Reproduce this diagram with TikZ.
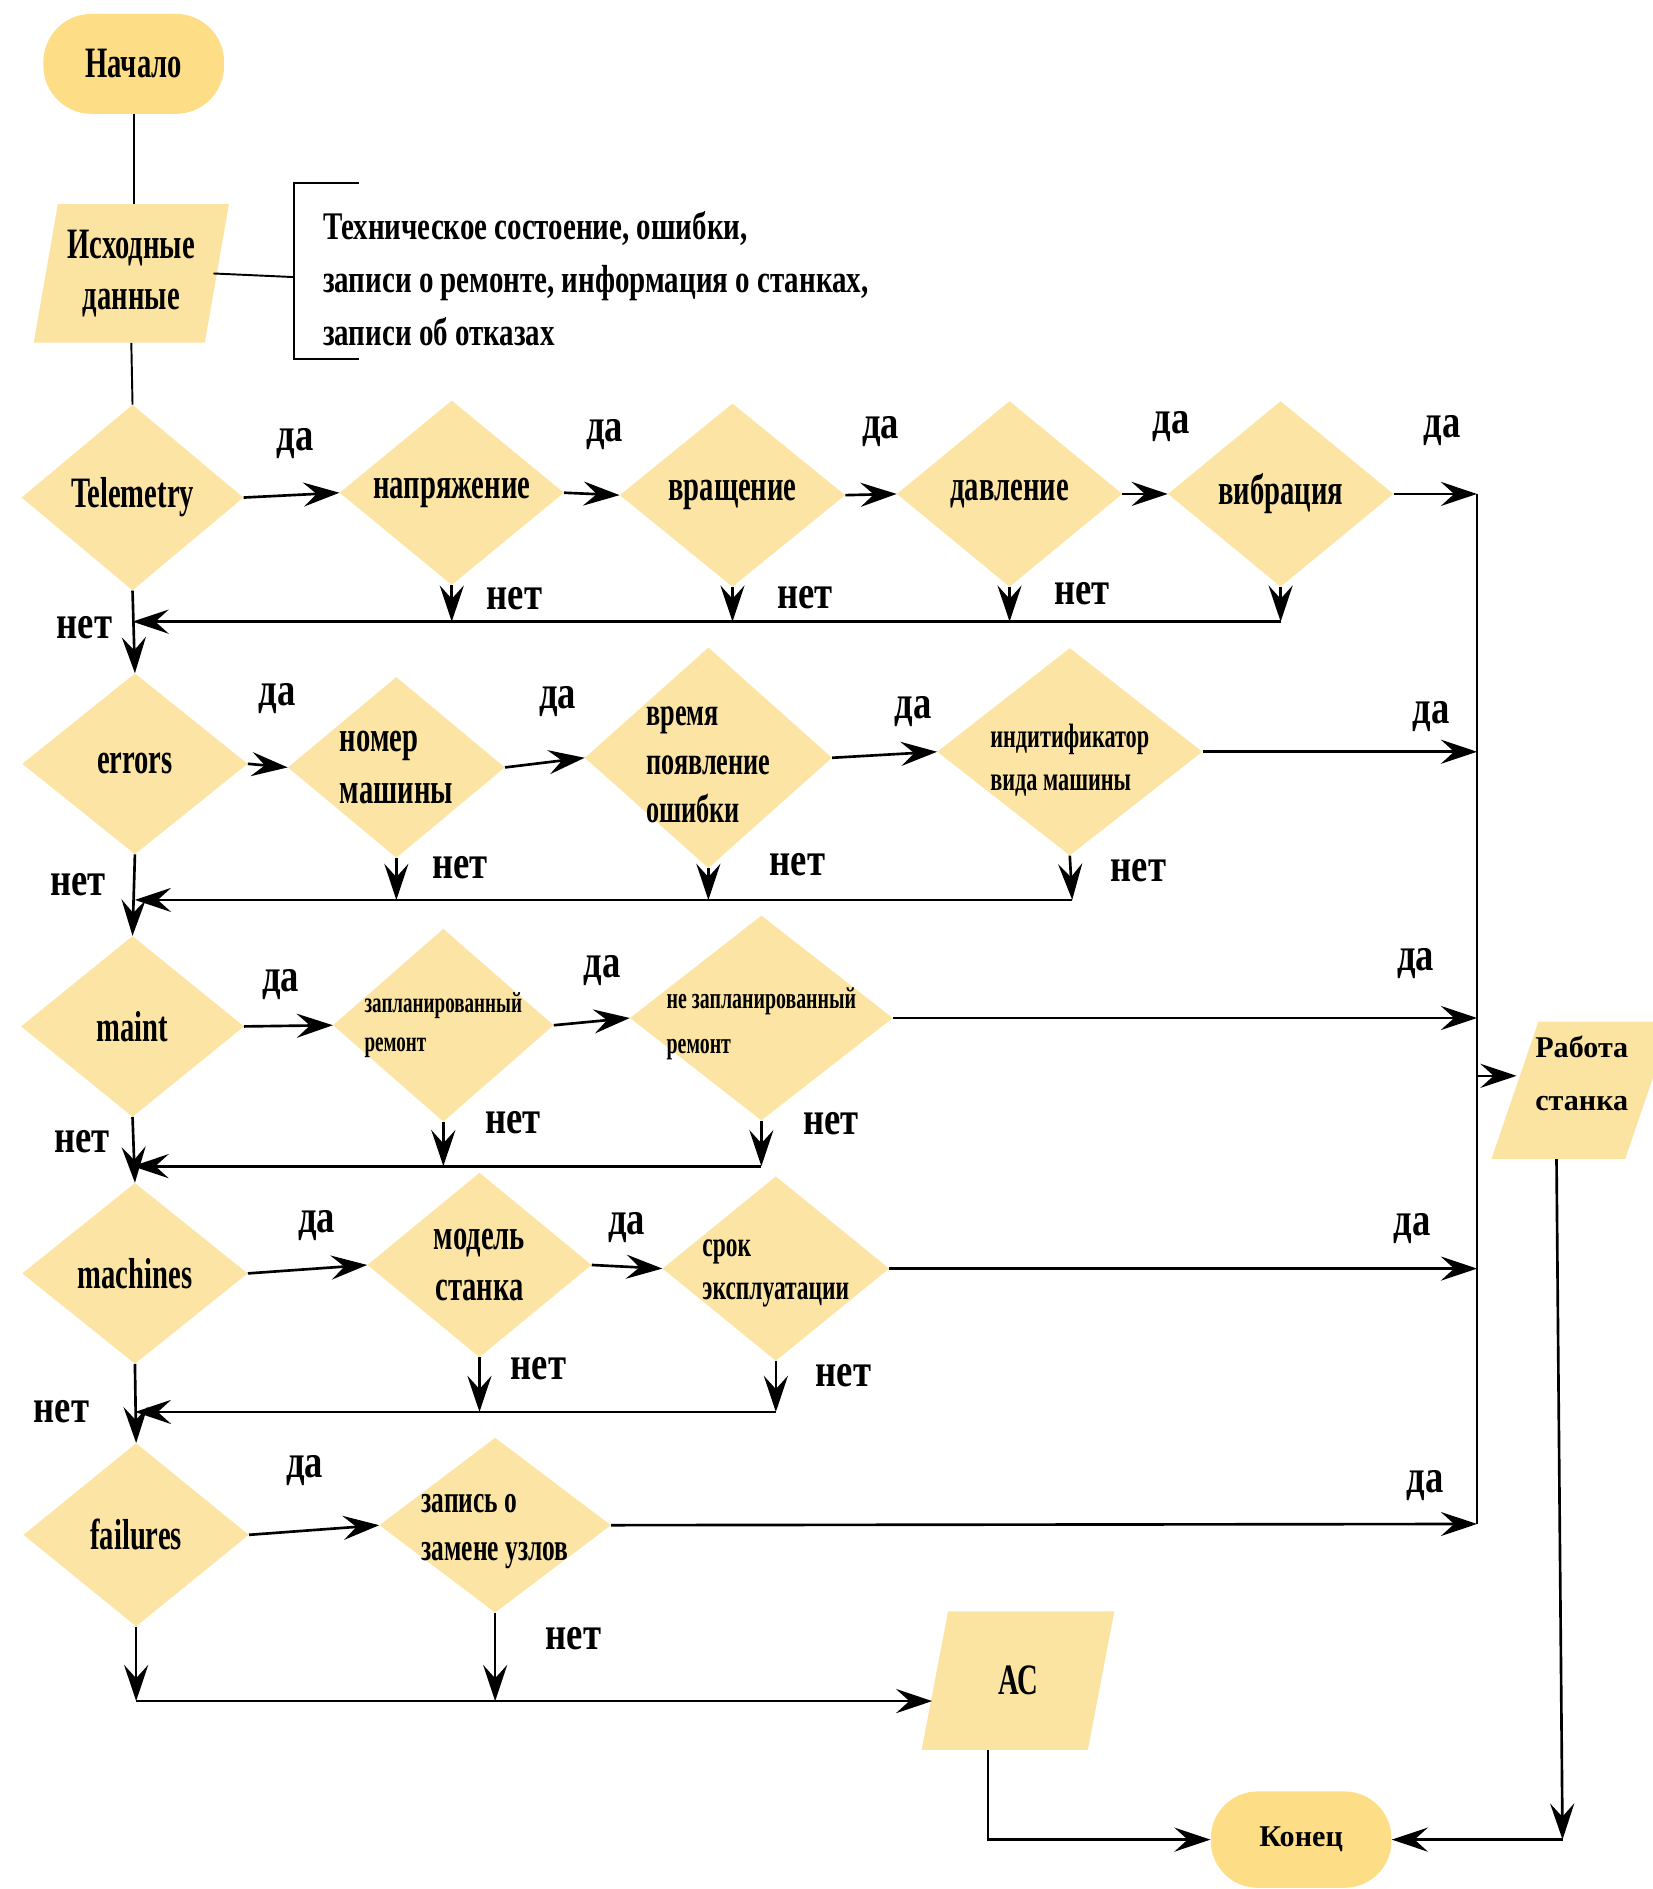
\documentclass[tikz,border=0pt]{standalone}
\usepackage{fontspec}
\setmainfont{Liberation Serif}
\newfontfamily\condA[FakeStretch=0.66]{Liberation Serif}
\newfontfamily\condB[FakeStretch=0.74]{Liberation Serif}
\newfontfamily\condC[FakeStretch=0.78]{Liberation Serif}
\usetikzlibrary{arrows.meta,calc}
\definecolor{diafill}{HTML}{FCE5A4}
\definecolor{termfill}{HTML}{FDDD86}
\definecolor{parfill}{HTML}{FBE3A2}
\newcommand\FtBig{\condA\bfseries\fontsize{36pt}{43pt}\selectfont}
\newcommand\FtMid{\condA\bfseries\fontsize{33pt}{40pt}\selectfont}
\newcommand\FtSrok{\condA\bfseries\fontsize{29.5pt}{36pt}\selectfont}
\newcommand\FtZam{\condA\bfseries\fontsize{32pt}{40pt}\selectfont}
\newcommand\FtInd{\condA\bfseries\fontsize{28pt}{36pt}\selectfont}
\newcommand\FtZap{\condA\bfseries\fontsize{24pt}{32pt}\selectfont}
\newcommand\FtNzap{\condA\bfseries\fontsize{25pt}{37pt}\selectfont}
\newcommand\FtLbl{\condC\bfseries\fontsize{39pt}{40pt}\selectfont}
\newcommand\FtInfo{\condB\bfseries\fontsize{32.5pt}{44pt}\selectfont}
\newcommand\FtNorm{\normalfont\bfseries\fontsize{25pt}{44pt}\selectfont}
\tikzset{
  dia/.style 2 args={rectangle, inner sep=0pt, minimum width=#1, minimum height=#2, align=center,
    path picture={\fill[diafill] (path picture bounding box.north) -- (path picture bounding box.east)
      -- (path picture bounding box.south) -- (path picture bounding box.west) -- cycle;}},
  para/.style n args={3}{rectangle, inner sep=0pt, minimum width=#1, minimum height=#2, align=center,
    path picture={\fill[parfill] ([xshift=#3]path picture bounding box.north west) -- (path picture bounding box.north east)
      -- ([xshift=-#3]path picture bounding box.south east) -- (path picture bounding box.south west) -- cycle;}},
  term/.style n args={3}{rectangle, inner sep=0pt, minimum width=#1, minimum height=#2, rounded corners=#3, fill=termfill},
  lbl/.style={font=\FtLbl, inner sep=0pt},
  ln/.style={line width=1.6pt},
  arr/.style={line width=2.2pt, -{Stealth[length=30pt,width=20pt,inset=11pt]}},
}
\begin{document}
\begin{tikzpicture}[x=1pt,y=-1pt]
\useasboundingbox (0,0) rectangle (1372,1568);
% top
\node[term={150pt}{83pt}{40pt}, font=\FtBig] (nach) at (111,53) {Начало};
\node[para={162pt}{115pt}{20pt}, font=\FtBig] (ish) at (109,227) {Исходные\\данные};
\node[anchor=west, align=left, font=\FtInfo, inner sep=0pt] (info) at (268,231) {Техническое состоение, ошибки,\\записи о ремонте, информация о станках,\\записи об отказах};
\coordinate (br) at (244,230);
\draw[ln] (298,152) -- (244,152) -- (244,298) -- (298,298);
\draw[ln] (nach.south) -- (nach.south |- ish.north);
\draw[ln] ([xshift=-13pt]ish.east) -- (br);

% row 1
\node[dia={184pt}{154pt}, font=\FtBig] (tel) at (110,413) {Telemetry};
\node[dia={186pt}{153pt}, font=\FtBig] (nap) at (375,409) {напряжение};
\node[dia={187pt}{152pt}, font=\FtBig] (vra) at (608,411) {вращение};
\node[dia={187pt}{154pt}, font=\FtBig] (dav) at (838,410) {давление};
\node[dia={187pt}{154pt}, font=\FtBig] (vib) at (1063,410) {вибрация};
\draw[ln] (ish.south) -- (tel.north);

% row 2
\node[dia={187pt}{150pt}, font=\FtBig] (err) at (112,634) {errors};
\node[dia={180pt}{150pt}, font=\FtBig, align=left] (nom) at (329,637) {номер\\машины};
\node[dia={205pt}{183pt}, label={[font=\FtMid, align=left, yshift=-6pt]center:{время\\появление\\ошибки}}] (vrem) at (588,629) {};
\node[dia={220pt}{172pt}, label={[font=\FtInd, align=left, yshift=-7pt]center:{индитификатор\\вида машины}}] (ind) at (888,624) {};

% row 3
\node[dia={185pt}{150pt}, font=\FtBig] (mnt) at (110,852) {maint};
\node[dia={183pt}{160pt}, font=\FtZap, align=left] (zap) at (368,851) {запланированный\\ремонт};
\node[dia={218pt}{170pt}, label={[font=\FtNzap, align=left, yshift=-5pt]center:{не запланированный\\ремонт}}] (nzap) at (632,845) {};

% row 4
\node[dia={187pt}{150pt}, font=\FtBig] (mach) at (112,1057) {machines};
\node[dia={186pt}{153pt}, font=\FtBig] (mod) at (398,1050) {модель\\станка};
\node[dia={188pt}{153pt}, label={[font=\FtSrok, align=left, yshift=-4pt]center:{срок\\эксплуатации}}] (srok) at (644,1053) {};

% row 5
\node[dia={187pt}{152pt}, font=\FtBig] (fail) at (113,1274) {failures};
\node[dia={192pt}{145pt}, label={[font=\FtZam, align=left, yshift=-5pt]center:{запись о\\замене узлов}}] (zam) at (411,1266) {};

% outputs
\node[para={160pt}{115pt}{22pt}, font=\FtBig] (ac) at (845,1395) {АС};
\node[term={150pt}{80pt}{39pt}, font=\FtNorm] (kon) at (1080,1527) {Конец};
\node[para={150pt}{114pt}{39pt}, label={[font=\FtNorm, align=center, yshift=14pt]center:{Работа\\станка}}] (rab) at (1313,905) {};

% bus
\coordinate (busT) at (1226,410);
\coordinate (busB) at (1226,1265);
\coordinate (busM) at (1226,893);
\draw[ln] (busT) -- (busB);
\draw[arr] (busM) -- ([xshift=21pt]rab.west |- busM);

% row 1 connectors
\draw[arr] (tel.east) -- (nap.west);
\draw[arr] (nap.east) -- (vra.west);
\draw[arr] (vra.east) -- (dav.west);
\draw[arr] (dav.east) -- (vib.west);
\draw[arr] (vib.east) -- (vib.east -| busT);
\coordinate (n1) at (1063,516);
\draw[arr] (nap.south) -- (nap.south |- n1);
\draw[arr] (vra.south) -- (vra.south |- n1);
\draw[arr] (dav.south) -- (dav.south |- n1);
\draw[arr] (vib.south) -- (n1);
\draw[arr] (n1) -- (tel.south |- n1);
\draw[arr] (tel.south) -- (err.north);

% row 2 connectors
\draw[arr] (err.east) -- (nom.west);
\draw[arr] (nom.east) -- (vrem.west);
\draw[arr] (vrem.east) -- (ind.west);
\draw[arr] (ind.east) -- (ind.east -| busT);
\coordinate (n2) at (890,747);
\draw[arr] (nom.south) -- (nom.south |- n2);
\draw[arr] (vrem.south) -- (vrem.south |- n2);
\draw[arr] (ind.south) -- (n2);
\draw[arr] (n2) -- (err.south |- n2);
\draw[arr] (err.south) -- (mnt.north);

% row 3 connectors
\draw[arr] (mnt.east) -- (zap.west);
\draw[arr] (zap.east) -- (nzap.west);
\draw[arr] (nzap.east) -- (nzap.east -| busT);
\coordinate (n3) at (632,968);
\draw[arr] (zap.south) -- (zap.south |- n3);
\draw[arr] (nzap.south) -- (n3);
\draw[arr] (n3) -- (mnt.south |- n3);
\draw[arr] (mnt.south) -- (mach.north);

% row 4 connectors
\draw[arr] (mach.east) -- (mod.west);
\draw[arr] (mod.east) -- (srok.west);
\draw[arr] (srok.east) -- (srok.east -| busT);
\coordinate (n4) at (644,1172);
\draw[arr] (mod.south) -- (mod.south |- n4);
\draw[arr] (srok.south) -- (n4);
\draw[arr] (n4) -- (mach.south |- n4);
\draw[arr] (mach.south) -- (fail.north);

% row 5 connectors
\draw[arr] (fail.east) -- (zam.west);
\draw[arr] (zam.east) -- (busB);
\coordinate (n5) at (113,1412);
\draw[arr] (fail.south) -- (n5);
\draw[arr] (zam.south) -- (zam.south |- n5);
\draw[arr] (n5) -- ($(n5 -| ac.west)+(9,0)$);

% ends
\draw[arr] ([xshift=-25pt]ac.south) |- (kon.west);
\coordinate (cor) at (1297,1527);
\draw[arr] ([xshift=-21pt]rab.south) -- (cor);
\draw[arr] (cor) -- (kon.east);

% labels
\node[lbl] (y11) at (245,368) {да};
\node[lbl] (y12) at (502,361) {да};
\node[lbl] (y13) at (731,358) {да};
\node[lbl] (y14) at (972,354) {да};
\node[lbl] (y15) at (1197,357) {да};
\node[lbl] (x11) at (427,497) {нет};
\node[lbl] (x12) at (668,496) {нет};
\node[lbl] (x13) at (898,493) {нет};
\node[lbl] (x10) at (70,521) {нет};

\node[lbl] (y21) at (230,580) {да};
\node[lbl] (y22) at (463,582) {да};
\node[lbl] (y23) at (758,591) {да};
\node[lbl] (y24) at (1188,595) {да};
\node[lbl] (x21) at (382,720) {нет};
\node[lbl] (x22) at (662,718) {нет};
\node[lbl] (x23) at (945,723) {нет};
\node[lbl] (x20) at (65,734) {нет};

\node[lbl] (y31) at (233,817) {да};
\node[lbl] (y32) at (500,806) {да};
\node[lbl] (y33) at (1175,800) {да};
\node[lbl] (x31) at (426,932) {нет};
\node[lbl] (x32) at (690,933) {нет};
\node[lbl] (x30) at (68,948) {нет};

\node[lbl] (y41) at (263,1017) {да};
\node[lbl] (y42) at (520,1019) {да};
\node[lbl] (y43) at (1172,1020) {да};
\node[lbl] (x41) at (447,1136) {нет};
\node[lbl] (x42) at (700,1142) {нет};
\node[lbl] (x40) at (51,1172) {нет};

\node[lbl] (y51) at (253,1221) {да};
\node[lbl] (y52) at (1183,1233) {да};
\node[lbl] (x51) at (476,1360) {нет};
\end{tikzpicture}
\end{document}
